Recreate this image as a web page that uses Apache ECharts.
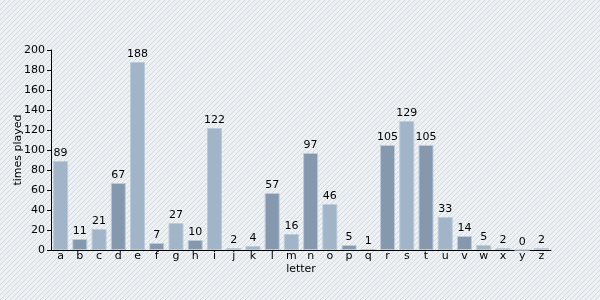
<!DOCTYPE html>
<html><head><meta charset="utf-8">
<script src="https://cdn.jsdelivr.net/npm/echarts@6/dist/echarts.min.js"></script>
<style>html,body{margin:0;padding:0;}#c{width:600px;height:300px;}</style>
</head><body><div id="c"></div>
<script>
const letters = ['a','b','c','d','e','f','g','h','i','j','k','l','m','n','o','p','q','r','s','t','u','v','w','x','y','z'];
const timesPlayed = [89,11,21,67,188,7,27,10,122,2,4,57,16,97,46,5,1,105,129,105,33,14,5,2,0,2];
const yTicks = [0,20,40,60,80,100,120,140,160,180,200];

const pat = document.createElement('canvas');
pat.width = 5; pat.height = 5;
const g = pat.getContext('2d');
g.fillStyle = '#eef1f4'; g.fillRect(0,0,5,5);
g.strokeStyle = '#d2d9e0'; g.lineWidth = 1;
g.beginPath(); g.moveTo(-1,6); g.lineTo(6,-1); g.stroke();

const font = 'DejaVu Sans';
const chart = echarts.init(document.getElementById('c'));
chart.setOption({
  backgroundColor: {image: pat, repeat: 'repeat'},
  animation: false,
  grid: {left: 51, right: 49, top: 50, bottom: 50, containLabel: false, outerBoundsMode: 'none'},
  xAxis: {
    type: 'category', data: letters, name: 'letter', nameLocation: 'middle', nameGap: 14,
    nameMoveOverlap: false,
    nameTextStyle: {fontFamily: font, fontSize: 11, color: '#000'},
    axisLine: {lineStyle: {color: '#000', width: 1}},
    axisTick: {alignWithLabel: true, length: 4, lineStyle: {color: '#000'}},
    axisLabel: {fontFamily: font, fontSize: 11, color: '#000', margin: 1, interval: 0}
  },
  yAxis: {
    type: 'value', min: yTicks[0], max: yTicks[yTicks.length-1], interval: 20,
    name: 'times played', nameLocation: 'middle', nameGap: 27,
    nameMoveOverlap: false,
    nameTextStyle: {fontFamily: font, fontSize: 11, color: '#000'},
    axisLine: {show: true, lineStyle: {color: '#000', width: 1}},
    axisTick: {show: true, length: 4, lineStyle: {color: '#000'}},
    axisLabel: {fontFamily: font, fontSize: 11, color: '#000', margin: 6},
    splitLine: {show: false}
  },
  series: [{
    type: 'bar', data: timesPlayed, barCategoryGap: '22%',
    itemStyle: {
      color: p => p.dataIndex % 2 === 0 ? '#a1b4c8' : '#8598ae',
      borderColor: '#bccbdb', borderWidth: 1
    },
    label: {show: true, position: 'top', distance: 2, fontFamily: font, fontSize: 11, color: '#000'}
  }]
});
</script></body></html>
